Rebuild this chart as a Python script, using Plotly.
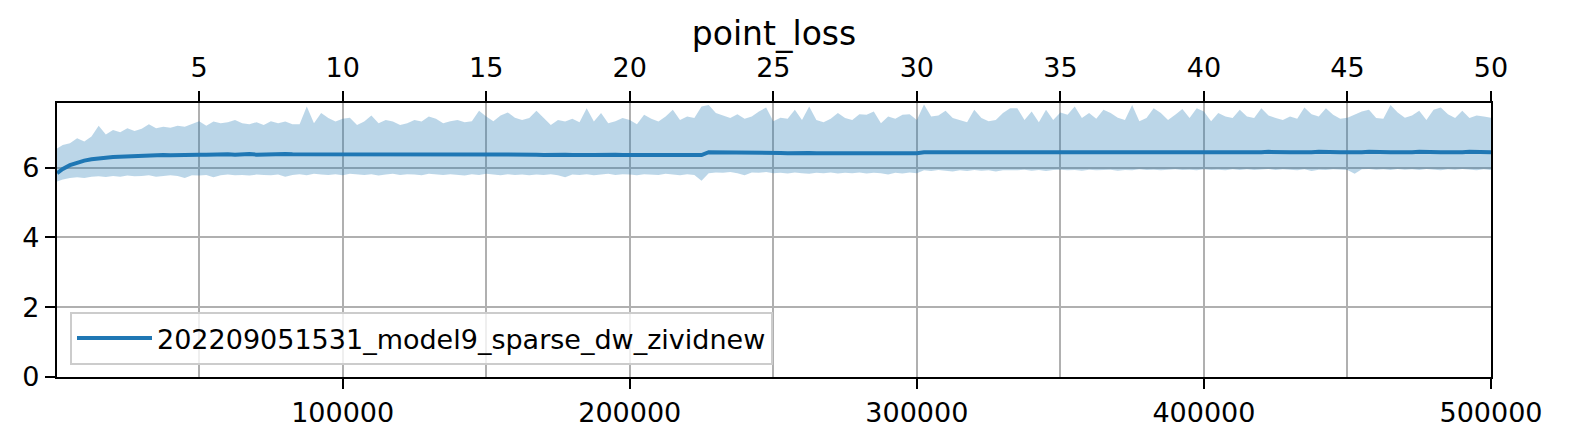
import plotly.graph_objects as go

# training steps: first logged step, then every 2500 steps up to 500k
STEPS = [500] + list(range(2500, 500001, 2500))

# upper edge of the shaded band (max over runs / window)
UPPER = [
    6.55,
    6.65, 6.70, 6.84, 6.75, 6.89, 7.20, 6.95, 7.08, 7.01, 7.13,
    7.05, 7.11, 7.24, 7.13, 7.17, 7.14, 7.20, 7.17, 7.24, 7.33,
    7.20, 7.32, 7.27, 7.30, 7.36, 7.27, 7.24, 7.30, 7.22, 7.33,
    7.27, 7.32, 7.24, 7.24, 7.75, 7.27, 7.56, 7.42, 7.32, 7.40,
    7.43, 7.22, 7.32, 7.49, 7.27, 7.36, 7.32, 7.22, 7.27, 7.36,
    7.32, 7.46, 7.40, 7.27, 7.33, 7.36, 7.30, 7.33, 7.63, 7.46,
    7.33, 7.49, 7.58, 7.43, 7.36, 7.42, 7.63, 7.42, 7.22, 7.36,
    7.32, 7.40, 7.30, 7.70, 7.32, 7.56, 7.27, 7.33, 7.42, 7.36,
    7.24, 7.51, 7.40, 7.32, 7.46, 7.66, 7.36, 7.46, 7.42, 7.75,
    7.79, 7.56, 7.49, 7.42, 7.53, 7.40, 7.46, 7.61, 7.72, 7.33,
    7.43, 7.40, 7.66, 7.36, 7.75, 7.36, 7.30, 7.40, 7.56, 7.42,
    7.36, 7.53, 7.51, 7.61, 7.27, 7.46, 7.40, 7.51, 7.53, 7.36,
    7.81, 7.46, 7.49, 7.63, 7.42, 7.36, 7.30, 7.66, 7.42, 7.33,
    7.36, 7.56, 7.70, 7.70, 7.36, 7.61, 7.30, 7.66, 7.36, 7.58,
    7.51, 7.75, 7.42, 7.56, 7.40, 7.66, 7.56, 7.43, 7.36, 7.79,
    7.33, 7.42, 7.70, 7.56, 7.36, 7.51, 7.68, 7.42, 7.70, 7.61,
    7.33, 7.56, 7.46, 7.42, 7.66, 7.46, 7.42, 7.70, 7.49, 7.42,
    7.36, 7.46, 7.40, 7.72, 7.53, 7.46, 7.70, 7.51, 7.40, 7.43,
    7.53, 7.61, 7.66, 7.42, 7.40, 7.79, 7.58, 7.43, 7.49, 7.63,
    7.36, 7.66, 7.72, 7.53, 7.42, 7.63, 7.42, 7.49, 7.46, 7.43,
]

# lower edge of the shaded band
LOWER = [
    5.60,
    5.66, 5.70, 5.72, 5.70, 5.74, 5.75, 5.73, 5.76, 5.74, 5.77,
    5.75, 5.76, 5.78, 5.74, 5.77, 5.78, 5.76, 5.70, 5.78, 5.77,
    5.79, 5.72, 5.78, 5.80, 5.78, 5.79, 5.77, 5.80, 5.79, 5.78,
    5.80, 5.74, 5.79, 5.81, 5.78, 5.82, 5.80, 5.79, 5.81, 5.78,
    5.82, 5.80, 5.79, 5.81, 5.77, 5.80, 5.82, 5.79, 5.81, 5.80,
    5.78, 5.82, 5.80, 5.79, 5.81, 5.80, 5.77, 5.81, 5.79, 5.82,
    5.80, 5.78, 5.81, 5.79, 5.80, 5.78, 5.80, 5.79, 5.81, 5.78,
    5.72, 5.80, 5.79, 5.81, 5.78, 5.80, 5.82, 5.79, 5.81, 5.80,
    5.78, 5.81, 5.80, 5.79, 5.82, 5.80, 5.78, 5.81, 5.79, 5.62,
    5.84, 5.86, 5.85, 5.87, 5.84, 5.78, 5.86, 5.85, 5.87, 5.84,
    5.85, 5.83, 5.86, 5.84, 5.82, 5.85, 5.84, 5.86, 5.83, 5.85,
    5.84, 5.86, 5.83, 5.85, 5.84, 5.80, 5.85, 5.83, 5.86, 5.84,
    5.92, 5.90, 5.93, 5.91, 5.89, 5.92, 5.90, 5.93, 5.91, 5.92,
    5.89, 5.92, 5.91, 5.92, 5.94, 5.91, 5.93, 5.90, 5.93, 5.94,
    5.92, 5.93, 5.91, 5.94, 5.92, 5.93, 5.94, 5.91, 5.93, 5.92,
    5.95, 5.93, 5.94, 5.92, 5.93, 5.95, 5.93, 5.94, 5.92, 5.95,
    5.93, 5.94, 5.92, 5.95, 5.93, 5.95, 5.93, 5.94, 5.96, 5.93,
    5.95, 5.94, 5.92, 5.95, 5.90, 5.94, 5.93, 5.95, 5.94, 5.93,
    5.82, 5.95, 5.96, 5.94, 5.95, 5.93, 5.96, 5.94, 5.95, 5.93,
    5.96, 5.94, 5.92, 5.95, 5.94, 5.96, 5.93, 5.92, 5.95, 5.93,
]

# smoothed mean loss
MEAN = [
    5.84,
    5.96, 6.07, 6.15, 6.20, 6.24, 6.27, 6.28, 6.30, 6.31, 6.32,
    6.33, 6.34, 6.34, 6.35, 6.36, 6.35, 6.36, 6.37, 6.36, 6.37,
    6.37, 6.38, 6.37, 6.38, 6.37, 6.38, 6.39, 6.37, 6.38, 6.37,
    6.38, 6.39, 6.38, 6.38, 6.37, 6.38, 6.39, 6.38, 6.37, 6.38,
    6.38, 6.39, 6.37, 6.38, 6.38, 6.37, 6.39, 6.38, 6.37, 6.38,
    6.39, 6.38, 6.37, 6.38, 6.38, 6.37, 6.38, 6.39, 6.38, 6.37,
    6.38, 6.37, 6.38, 6.37, 6.38, 6.37, 6.37, 6.36, 6.37, 6.36,
    6.37, 6.36, 6.37, 6.36, 6.36, 6.37, 6.36, 6.37, 6.36, 6.36,
    6.37, 6.36, 6.37, 6.36, 6.36, 6.37, 6.36, 6.36, 6.37, 6.36,
    6.44, 6.44, 6.43, 6.44, 6.43, 6.44, 6.43, 6.44, 6.43, 6.43,
    6.42, 6.41, 6.42, 6.41, 6.42, 6.41, 6.41, 6.42, 6.41, 6.42,
    6.41, 6.41, 6.42, 6.41, 6.41, 6.42, 6.41, 6.42, 6.41, 6.41,
    6.44, 6.44, 6.43, 6.44, 6.44, 6.43, 6.44, 6.44, 6.43, 6.44,
    6.43, 6.44, 6.43, 6.43, 6.44, 6.42, 6.43, 6.44, 6.43, 6.42,
    6.43, 6.44, 6.43, 6.42, 6.43, 6.44, 6.43, 6.43, 6.42, 6.43,
    6.44, 6.43, 6.42, 6.43, 6.44, 6.43, 6.42, 6.43, 6.44, 6.43,
    6.42, 6.43, 6.44, 6.43, 6.43, 6.44, 6.43, 6.44, 6.45, 6.44,
    6.43, 6.44, 6.44, 6.43, 6.44, 6.45, 6.44, 6.43, 6.44, 6.44,
    6.43, 6.44, 6.45, 6.44, 6.43, 6.44, 6.44, 6.43, 6.44, 6.45,
    6.44, 6.43, 6.44, 6.44, 6.43, 6.44, 6.45, 6.44, 6.43, 6.44,
]

RUN_NAME = "202209051531_model9_sparse_dw_zividnew"
STEP_TICKS = [100000, 200000, 300000, 400000, 500000]
EPOCH_TICKS = [5, 10, 15, 20, 25, 30, 35, 40, 45, 50]
Y_TICKS = [0, 2, 4, 6]

BLUE = "#1f77b4"
BAND = "rgba(31, 119, 180, 0.3)"
GRID = "#b0b0b0"
FONT = "DejaVu Sans, sans-serif"

fig = go.Figure()

fig.add_trace(go.Scatter(
    x=STEPS, y=LOWER, mode="lines", line=dict(width=0),
    showlegend=False, hoverinfo="skip",
))
fig.add_trace(go.Scatter(
    x=STEPS, y=UPPER, mode="lines", line=dict(width=0),
    fill="tonexty", fillcolor=BAND, showlegend=False, hoverinfo="skip",
))
fig.add_trace(go.Scatter(
    x=STEPS, y=MEAN, mode="lines", name=RUN_NAME,
    line=dict(color=BLUE, width=4),
))
# invisible trace so the epoch axis on top gets drawn
fig.add_trace(go.Scatter(
    x=[EPOCH_TICKS[0], EPOCH_TICKS[-1]], y=[0, 0], xaxis="x2", mode="markers",
    marker=dict(opacity=0), showlegend=False, hoverinfo="skip",
))

axis_style = dict(
    showline=True, linecolor="black", linewidth=2.2,
    ticks="outside", ticklen=10, tickwidth=2.2, tickcolor="black",
    tickfont=dict(family=FONT, size=27, color="black"),
    zeroline=False, automargin=False,
)

fig.update_layout(
    width=1581, height=444,
    margin=dict(l=57, r=90, t=103, b=67),
    paper_bgcolor="white", plot_bgcolor="white",
    font=dict(family=FONT, color="black"),
    title=dict(
        text="point_loss", x=(57 + 1491) / 2 / 1581, xanchor="center",
        y=1 - 33 / 444, yanchor="middle",
        font=dict(family=FONT, size=33, color="black"),
    ),
    xaxis=dict(
        range=[490, 500000], tickvals=STEP_TICKS,
        ticktext=[str(t) for t in STEP_TICKS], showgrid=False,
        **axis_style,
    ),
    xaxis2=dict(
        range=[0.049, 50], overlaying="x", side="top", tickvals=EPOCH_TICKS,
        showgrid=True, gridcolor=GRID, gridwidth=2.2, ticklabelstandoff=3,
        **axis_style,
    ),
    yaxis=dict(
        range=[0, 7.85], tickvals=Y_TICKS, showgrid=True, gridcolor=GRID,
        gridwidth=2.2, mirror=True, **axis_style,
    ),
    legend=dict(
        x=(70 - 57) / 1434, y=(377 - 365) / 274, xanchor="left", yanchor="bottom",
        bgcolor="rgba(255,255,255,0.8)", bordercolor="#cccccc", borderwidth=2,
        itemwidth=75,
        font=dict(family=FONT, size=27, color="black"),
    ),
    showlegend=True,
)

fig.write_html(
    "out.html",
    config={"displayModeBar": False},
    post_script="document.body.style.margin = '0';",
)
